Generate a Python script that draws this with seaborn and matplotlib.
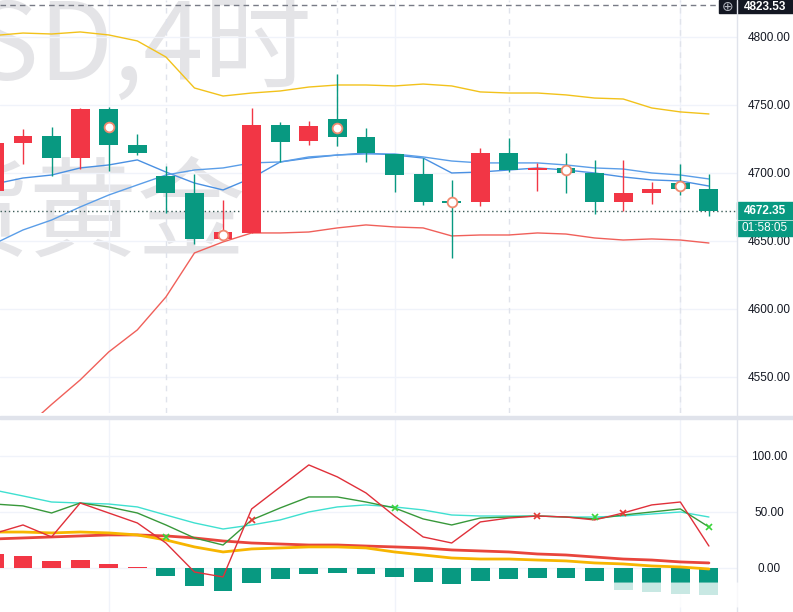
import numpy as np
import pandas as pd
import matplotlib
matplotlib.use("Agg")
import matplotlib.pyplot as plt
from matplotlib.patches import Rectangle, FancyBboxPatch
from matplotlib.lines import Line2D
import seaborn as sns

# 现货黄金 XAUUSD 4小时 K线, 从左边被截掉的一根 (k=-1) 到最后一根 (k=24)
bar_idx = list(range(-1, 25))
opens = [4686.8, 4722.1, 4727.2, 4711.0, 4747.1, 4720.6, 4697.8, 4685.3, 4651.5, 4655.9,
         4735.3, 4723.5, 4739.7, 4726.5, 4714.0, 4699.3, 4678.7, 4678.7, 4714.7, 4702.2,
         4703.7, 4700.0, 4678.7, 4685.3, 4692.6, 4688.2]
highs = [4724.0, 4732.4, 4733.8, 4747.8, 4748.5, 4728.7, 4705.1, 4699.3, 4680.1, 4747.8,
         4737.5, 4738.2, 4772.8, 4733.1, 4714.0, 4711.0, 4694.9, 4718.4, 4725.7, 4707.4,
         4714.7, 4709.6, 4709.6, 4693.4, 4706.6, 4699.3]
lows = [4685.0, 4706.6, 4697.8, 4702.9, 4701.5, 4713.2, 4670.6, 4647.8, 4650.7, 4655.9,
        4708.1, 4720.6, 4719.9, 4708.1, 4686.0, 4676.5, 4637.5, 4675.7, 4700.7, 4686.8,
        4685.3, 4669.9, 4672.1, 4677.2, 4683.8, 4668.4]
closes = [4722.1, 4727.2, 4711.0, 4747.1, 4720.6, 4714.7, 4685.3, 4651.5, 4656.6, 4735.3,
          4722.8, 4734.6, 4726.5, 4714.7, 4698.5, 4678.7, 4677.9, 4714.7, 4702.2, 4703.7,
          4700.0, 4678.7, 4685.3, 4688.2, 4688.2, 4672.35]
circle_bars = [3, 7, 11, 15, 19, 23]

# 布林带 + 均线
bb_upper = [4801.1, 4802.9, 4802.2, 4803.7, 4801.5, 4797.1, 4785.3, 4762.5, 4756.6, 4758.8,
            4760.3, 4763.2, 4764.7, 4764.7, 4764.0, 4765.4, 4764.0, 4759.6, 4758.8, 4758.8,
            4757.4, 4755.1, 4754.4, 4747.8, 4744.9, 4743.4]
bb_lower = [4492.0, 4511.0, 4529.8, 4547.8, 4568.4, 4584.6, 4608.8, 4641.2, 4649.3, 4655.9,
            4655.9, 4656.6, 4659.6, 4661.8, 4660.3, 4659.6, 4653.7, 4654.4, 4654.4, 4655.9,
            4655.1, 4652.2, 4650.7, 4651.5, 4650.7, 4648.5]
ma_fast = [4691.9, 4696.3, 4698.5, 4703.7, 4705.9, 4709.6, 4700.7, 4692.6, 4687.5, 4696.3,
           4708.1, 4711.0, 4713.2, 4714.7, 4713.2, 4711.0, 4700.0, 4700.7, 4702.2, 4703.7,
           4702.2, 4700.0, 4697.1, 4694.9, 4694.1, 4690.4]
ma_slow = [4648.0, 4658.1, 4665.4, 4675.0, 4683.8, 4691.2, 4698.5, 4702.2, 4703.7, 4707.4,
           4708.1, 4711.8, 4713.2, 4714.0, 4714.0, 4711.8, 4708.8, 4707.4, 4707.4, 4707.4,
           4705.9, 4703.7, 4702.9, 4700.0, 4698.5, 4695.6]
last_price = 4672.35
high_mark = 4823.53
price_ticks = [4550, 4600, 4650, 4700, 4750, 4800]

# 副图指标
ind_cyan = [69.5, 64.3, 58.9, 58.0, 57.1, 54.5, 47.3, 40.2, 34.8, 38.4, 42.9, 50.0, 54.5,
            56.3, 54.5, 51.8, 47.3, 46.4, 46.4, 46.4, 45.5, 45.5, 46.4, 48.2, 50.0, 45.5]
ind_green = [57.1, 55.4, 49.1, 58.0, 54.5, 49.1, 38.4, 26.8, 20.5, 42.9, 53.6, 63.4, 63.4,
             58.9, 53.6, 43.8, 38.4, 44.6, 45.5, 46.4, 45.5, 43.8, 47.3, 50.0, 52.7, 36.6]
ind_red = [30.8, 38.4, 27.7, 58.0, 49.1, 40.2, 22.3, -3.6, -8.0, 52.7, 72.3, 92.0, 81.3,
           67.0, 46.4, 27.7, 22.3, 41.1, 44.6, 46.4, 45.5, 42.9, 49.1, 56.3, 58.9, 19.6]
sig_orange = [32.1, 32.1, 31.3, 32.1, 31.3, 29.5, 25.0, 18.8, 14.3, 17.0, 17.9, 18.8, 18.8,
              17.9, 14.3, 11.6, 8.9, 8.0, 8.0, 7.1, 6.3, 4.5, 3.6, 1.8, 0.9, -0.9]
sig_red = [25.9, 26.8, 27.7, 28.6, 29.5, 29.5, 28.6, 26.8, 24.1, 22.3, 21.4, 20.5, 20.5,
           19.6, 18.8, 17.9, 16.1, 15.2, 14.3, 12.5, 11.6, 9.8, 8.0, 7.1, 5.4, 4.5]
hist = [12.5, 10.7, 6.3, 7.1, 3.6, 0.9, -7.1, -16.1, -20.5, -13.4, -9.8, -5.4, -4.5, -5.4,
        -8.0, -12.5, -14.3, -11.6, -9.8, -8.9, -8.9, -11.6, -19.6, -21.4, -23.2, -24.1]
x_green_bars = [5, 13, 20, 24]
x_green_vals = [27.7, 53.6, 45.5, 36.6]
x_red_bars = [8, 18, 21]
x_red_vals = [42.9, 46.4, 49.1]
ind_ticks = [0, 50, 100]

RED = '#f23645'
TEAL = '#089981'
GRID = '#f0f3fa'
TXT = '#131722'

sns.set_theme(style="white")
plt.rcParams['font.family'] = ['Liberation Sans', 'DejaVu Sans']

W, H = 793, 612
PLOT_W, TOP_H, BOT_Y0 = 737, 413, 419
fig = plt.figure(figsize=(W / 100, H / 100), dpi=100)
ax = fig.add_axes([0, 1 - TOP_H / H, PLOT_W / W, TOP_H / H])
ax2 = fig.add_axes([0, 0, PLOT_W / W, (H - BOT_Y0) / H])

step = 28.58
xlim = (-23 / step, (PLOT_W - 23) / step)
ylim_top = (4523.5, 4827.2)
ylim_bot = (-39.3, 133.0)
px_per_unit = TOP_H / (ylim_top[1] - ylim_top[0])

df = pd.DataFrame(dict(x=bar_idx, o=opens, h=highs, l=lows, c=closes))
df['color'] = np.where(df.c >= df.o, RED, TEAL)
df['lo'] = np.minimum(df.o, df.c)
df['hgt'] = np.maximum((df.c - df.o).abs(), 1.2)

# 水印
wm = dict(transform=ax.transAxes, ha='right', va='baseline', fontsize=78,
          color='#e4e4e7', family=['Noto Sans CJK SC'], zorder=0)
ax.text(312 / PLOT_W, 1 - 80 / TOP_H, "XAUUSD,4时", **wm)
ax.text(246 / PLOT_W, 1 - 248 / TOP_H, "现货黄金", **wm)

# 网格
for k in [3, 13, 23]:
    ax.axvline(k, color=GRID, lw=1, zorder=0.5)
    ax2.axvline(k, color=GRID, lw=1, zorder=0.5)
for k in [5, 11, 17, 23]:
    ax.axvline(k, color='#e0e3eb', lw=1, ls=(0, (4, 4)), zorder=0.6)
for v in price_ticks:
    ax.axhline(v, color=GRID, lw=1, zorder=0.5)
for v in ind_ticks:
    ax2.axhline(v, color=GRID, lw=1, zorder=0.5)

# 主图线
sns.lineplot(x=bar_idx, y=bb_upper, ax=ax, color='#f2c21b', lw=1, zorder=2)
sns.lineplot(x=bar_idx, y=bb_lower, ax=ax, color='#f0605a', lw=1, zorder=2)
sns.lineplot(x=bar_idx, y=ma_fast, ax=ax, color='#4a90e2', lw=1, zorder=2)
sns.lineplot(x=bar_idx, y=ma_slow, ax=ax, color='#5b9ee8', lw=1, zorder=2)

# K线
ax.vlines(df.x, df.l, df.h, colors=df.color, lw=1, zorder=3)
ax.bar(df.x, df.hgt, bottom=df.lo, width=0.66, color=df.color, lw=0, zorder=4)
cm = df[df.x.isin(circle_bars)]
ax.plot(cm.x, (cm.o + cm.c) / 2, 'o', ms=7, mfc='white', mec='#f08a70', mew=1.3,
        ls='none', zorder=5)

# 最高价虚线 / 现价点线
ax.axhline(high_mark, xmax=719 / PLOT_W, color='#787b86', lw=1, ls=(0, (4, 3)), zorder=2)
ax.axhline(last_price, color='#3b5b57', lw=1, ls=(0, (1, 2)), zorder=2)

ax.set_xlim(*xlim)
ax.set_ylim(*ylim_top)
ax.set_xticks([])
ax.set_yticks(price_ticks)
ax.set_yticklabels([f"{v:.2f}" for v in price_ticks])
ax.yaxis.tick_right()
ax.tick_params(axis='y', length=0, pad=23, labelsize=8.5, labelcolor=TXT)
for lab in ax.get_yticklabels():
    lab.set_ha('center')

# 价格标签
yax = ax.get_yaxis_transform()
tag_w = (W - PLOT_W) / PLOT_W
hh = 8.5 / px_per_unit
ax.add_patch(Rectangle((1, last_price - hh), tag_w, 2 * hh, transform=yax,
                       color=TEAL, clip_on=False, zorder=6))
ax.text(1 + tag_w / 2, last_price, f"{last_price:.2f}", transform=yax, ha='center',
        va='center', color='white', fontsize=8.5, fontweight='bold', zorder=7, clip_on=False)
t_top = last_price - 10 / px_per_unit
t_bot = last_price - 25.5 / px_per_unit
ax.add_patch(Rectangle((1, t_bot), tag_w, t_top - t_bot, transform=yax,
                       color=TEAL, clip_on=False, zorder=6))
ax.text(1 + tag_w / 2, (t_top + t_bot) / 2, "01:58:05", transform=yax, ha='center',
        va='center', color='white', fontsize=8.5, zorder=7, clip_on=False)

# 顶部最高价标签 (高 13px, 贴着图顶)
box_top = ylim_top[1]
box_bot = ylim_top[1] - 13 / px_per_unit
box_mid = (box_top + box_bot) / 2
ax.add_patch(Rectangle((719 / PLOT_W, box_bot), (W - 719) / PLOT_W, box_top - box_bot,
                       transform=yax, color=TXT, clip_on=False, zorder=6))
ax.text(728 / PLOT_W, box_mid, "⊕", transform=yax, ha='center', va='center',
        color='#b2b5be', fontsize=10, family=['DejaVu Sans'], zorder=7, clip_on=False)
ax.text(1 + tag_w / 2, box_mid, f"{high_mark:.2f}", transform=yax, ha='center',
        va='center', color='white', fontsize=8.5, fontweight='bold', zorder=7, clip_on=False)

# 副图
hcol = [RED if v >= 0 else TEAL for v in hist]
ax2.bar(bar_idx, hist, width=0.66, color=hcol, lw=0, zorder=2)
sns.lineplot(x=bar_idx, y=sig_red, ax=ax2, color='#e8453c', lw=2, zorder=3)
sns.lineplot(x=bar_idx, y=sig_orange, ax=ax2, color='#f7b500', lw=2, zorder=3)
sns.lineplot(x=bar_idx, y=ind_cyan, ax=ax2, color='#3fe0d0', lw=1, zorder=4)
sns.lineplot(x=bar_idx, y=ind_green, ax=ax2, color='#38983a', lw=1, zorder=4)
sns.lineplot(x=bar_idx, y=ind_red, ax=ax2, color='#e0303a', lw=1, zorder=4)
ax2.plot(x_green_bars, x_green_vals, 'x', color='#3ad43a', ms=5, mew=1.2, ls='none', zorder=5)
ax2.plot(x_red_bars, x_red_vals, 'x', color='#e53935', ms=5, mew=1.2, ls='none', zorder=5)

ax2.set_xlim(*xlim)
ax2.set_ylim(*ylim_bot)
ax2.set_xticks([])
ax2.set_yticks(ind_ticks)
ax2.set_yticklabels([f"{v:.2f}" for v in ind_ticks])
ax2.yaxis.tick_right()
ax2.tick_params(axis='y', length=0, pad=23, labelsize=8.5, labelcolor=TXT)
for lab in ax2.get_yticklabels():
    lab.set_ha('center')

for a in (ax, ax2):
    for s in a.spines.values():
        s.set_visible(False)
    a.set_xlabel('')
    a.set_ylabel('')

# 面板分隔 / 价格轴分隔
fig.add_artist(Rectangle((0, 1 - 418.5 / H), 1, 3 / H, transform=fig.transFigure,
                         color='#e0e3eb', zorder=1))
fig.add_artist(Line2D([PLOT_W / W, PLOT_W / W], [0, 1], transform=fig.transFigure,
                      color='#e0e3eb', lw=1, zorder=1))

# 右下角水印
fig.add_artist(FancyBboxPatch((594 / W, 1 - 605 / H), 194 / W, 20 / H,
                              boxstyle="round,pad=0.004", transform=fig.transFigure,
                              fc='white', ec='none', alpha=0.78, zorder=10))

fig.savefig('out.png', dpi=100)
